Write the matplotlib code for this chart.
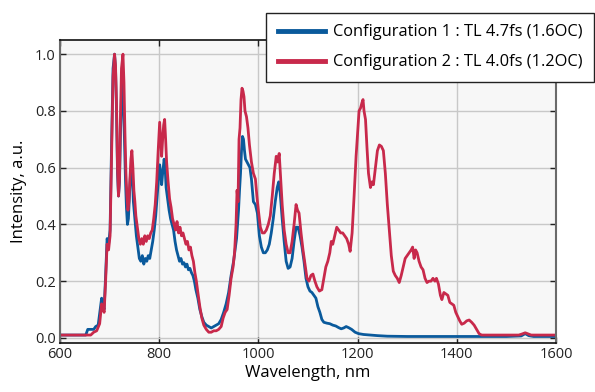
import numpy as np
import matplotlib.pyplot as plt

plt.rcParams['font.family'] = ['Open Sans', 'DejaVu Sans']

# Configuration 1 (blue)
wl_conf1 = [600, 652, 656, 662, 668, 672, 677, 681, 684, 686, 689, 692, 695, 698, 701, 704,
            707, 710, 712, 714, 716, 718, 720, 722, 724, 726, 728, 730, 732, 734, 736, 738,
            740, 742, 744, 746, 748, 750, 752, 754, 757, 760, 763, 766, 769, 772, 775, 778,
            781, 784, 787, 790, 793, 796, 799, 801, 803, 805, 807, 810, 812, 814, 817, 820,
            823, 826, 829, 832, 835, 838, 841, 844, 847, 850, 853, 856, 859, 862, 865, 868,
            871, 874, 878, 882, 886, 890, 895, 900, 905, 910, 915, 920, 925, 930, 935, 940,
            945, 950, 953, 956, 958, 960, 962, 964, 966, 968, 970, 972, 974, 977, 980, 983,
            986, 990, 994, 998, 1002, 1006, 1010, 1014, 1018, 1022, 1026, 1030, 1034, 1038, 1041, 1044,
            1048, 1052, 1056, 1060, 1064, 1068, 1072, 1076, 1080, 1084, 1088, 1092, 1096, 1100, 1104, 1108,
            1112, 1116, 1120, 1124, 1128, 1132, 1138, 1144, 1150, 1156, 1162, 1167, 1172, 1177, 1182, 1188,
            1195, 1202, 1212, 1225, 1240, 1260, 1300, 1400, 1500, 1530, 1538, 1545, 1555, 1600]
int_conf1 = [0.01, 0.01, 0.03, 0.03, 0.03, 0.04, 0.045, 0.10, 0.14, 0.12, 0.10, 0.22, 0.35, 0.33, 0.38, 0.68,
             0.95, 1.00, 0.95, 0.80, 0.58, 0.50, 0.55, 0.72, 0.86, 0.90, 0.82, 0.70, 0.56, 0.46, 0.40, 0.42,
             0.50, 0.57, 0.60, 0.57, 0.48, 0.44, 0.40, 0.36, 0.32, 0.28, 0.27, 0.29, 0.26, 0.28, 0.27, 0.29,
             0.28, 0.31, 0.34, 0.38, 0.43, 0.50, 0.57, 0.61, 0.58, 0.54, 0.58, 0.63, 0.60, 0.53, 0.49, 0.45,
             0.42, 0.40, 0.38, 0.34, 0.31, 0.29, 0.27, 0.28, 0.26, 0.265, 0.25, 0.26, 0.24, 0.245, 0.23, 0.22,
             0.20, 0.17, 0.14, 0.10, 0.075, 0.055, 0.045, 0.04, 0.035, 0.04, 0.045, 0.05, 0.065, 0.09, 0.12, 0.16,
             0.22, 0.27, 0.31, 0.35, 0.40, 0.45, 0.52, 0.58, 0.66, 0.71, 0.70, 0.66, 0.63, 0.62, 0.61, 0.60,
             0.56, 0.48, 0.47, 0.44, 0.36, 0.32, 0.30, 0.30, 0.31, 0.33, 0.37, 0.42, 0.48, 0.53, 0.55, 0.51,
             0.42, 0.34, 0.27, 0.245, 0.25, 0.28, 0.34, 0.39, 0.39, 0.36, 0.32, 0.27, 0.21, 0.18, 0.165, 0.16,
             0.15, 0.14, 0.11, 0.09, 0.065, 0.055, 0.052, 0.05, 0.045, 0.042, 0.036, 0.032, 0.035, 0.04, 0.036, 0.03,
             0.02, 0.015, 0.012, 0.01, 0.008, 0.006, 0.005, 0.005, 0.005, 0.007, 0.015, 0.008, 0.005, 0.005]

# Configuration 2 (red)
wl_conf2 = [600, 650, 662, 668, 674, 680, 684, 686, 689, 692, 695, 698, 701, 704, 707, 710,
            712, 714, 716, 718, 720, 722, 724, 727, 729, 731, 733, 735, 737, 739, 741, 743,
            745, 747, 749, 751, 753, 756, 759, 762, 765, 768, 771, 774, 777, 780, 783, 786,
            789, 792, 795, 798, 801, 803, 805, 807, 809, 811, 813, 815, 818, 821, 824, 827,
            830, 833, 836, 839, 842, 845, 848, 851, 854, 857, 860, 863, 866, 869, 872, 875,
            878, 882, 886, 890, 895, 900, 905, 910, 915, 920, 925, 929, 933, 937, 941, 945,
            949, 952, 955, 957, 959, 961, 963, 965, 967, 969, 971, 973, 976, 979, 982, 986,
            990, 994, 997, 1000, 1004, 1008, 1012, 1016, 1020, 1024, 1028, 1032, 1036, 1039, 1042, 1045,
            1048, 1052, 1056, 1060, 1064, 1068, 1072, 1076, 1079, 1082, 1086, 1090, 1094, 1098, 1102, 1106,
            1110, 1114, 1118, 1123, 1128, 1132, 1136, 1140, 1144, 1147, 1150, 1154, 1158, 1162, 1166, 1170,
            1174, 1178, 1182, 1185, 1189, 1193, 1197, 1200, 1203, 1206, 1209, 1211, 1213, 1216, 1219, 1222,
            1226, 1229, 1232, 1236, 1240, 1244, 1248, 1252, 1256, 1260, 1264, 1268, 1272, 1276, 1280, 1284,
            1288, 1292, 1296, 1300, 1304, 1308, 1311, 1314, 1317, 1320, 1324, 1328, 1332, 1336, 1340, 1344,
            1348, 1352, 1356, 1359, 1363, 1367, 1370, 1374, 1378, 1382, 1386, 1390, 1394, 1398, 1402, 1406,
            1410, 1415, 1420, 1425, 1430, 1435, 1440, 1445, 1450, 1500, 1525, 1532, 1538, 1544, 1550, 1600]
int_conf2 = [0.01, 0.01, 0.01, 0.02, 0.025, 0.05, 0.12, 0.11, 0.09, 0.20, 0.33, 0.31, 0.36, 0.65, 0.92, 1.00,
             0.96, 0.82, 0.60, 0.50, 0.56, 0.78, 0.95, 1.00, 0.90, 0.72, 0.58, 0.50, 0.45, 0.48, 0.56, 0.63,
             0.66, 0.60, 0.52, 0.48, 0.43, 0.39, 0.35, 0.33, 0.35, 0.33, 0.36, 0.34, 0.36, 0.35, 0.37, 0.38,
             0.42, 0.47, 0.55, 0.66, 0.76, 0.70, 0.64, 0.70, 0.75, 0.77, 0.70, 0.62, 0.55, 0.49, 0.46, 0.42,
             0.40, 0.38, 0.41, 0.37, 0.39, 0.36, 0.37, 0.35, 0.33, 0.34, 0.31, 0.32, 0.29, 0.27, 0.23, 0.20,
             0.16, 0.11, 0.07, 0.045, 0.03, 0.02, 0.02, 0.025, 0.025, 0.03, 0.04, 0.07, 0.09, 0.10, 0.15, 0.21,
             0.25, 0.30, 0.40, 0.52, 0.48, 0.70, 0.74, 0.84, 0.88, 0.87, 0.85, 0.80, 0.78, 0.74, 0.68, 0.62,
             0.58, 0.56, 0.50, 0.45, 0.39, 0.37, 0.37, 0.38, 0.40, 0.43, 0.50, 0.58, 0.64, 0.62, 0.65, 0.56,
             0.47, 0.38, 0.33, 0.30, 0.30, 0.34, 0.40, 0.47, 0.45, 0.44, 0.37, 0.31, 0.26, 0.21, 0.20, 0.22,
             0.225, 0.20, 0.18, 0.165, 0.17, 0.21, 0.25, 0.27, 0.30, 0.34, 0.33, 0.36, 0.39, 0.38, 0.37, 0.37,
             0.36, 0.35, 0.33, 0.305, 0.37, 0.50, 0.64, 0.72, 0.80, 0.81, 0.83, 0.84, 0.80, 0.77, 0.67, 0.58,
             0.53, 0.55, 0.54, 0.60, 0.66, 0.68, 0.675, 0.66, 0.58, 0.47, 0.38, 0.29, 0.235, 0.22, 0.21, 0.195,
             0.22, 0.25, 0.28, 0.29, 0.30, 0.31, 0.32, 0.28, 0.31, 0.30, 0.27, 0.25, 0.24, 0.21, 0.195, 0.20,
             0.20, 0.21, 0.20, 0.21, 0.19, 0.15, 0.135, 0.16, 0.155, 0.15, 0.125, 0.12, 0.115, 0.09, 0.075, 0.06,
             0.048, 0.052, 0.06, 0.063, 0.055, 0.045, 0.03, 0.015, 0.01, 0.01, 0.01, 0.014, 0.018, 0.014, 0.01, 0.01]

labels = ['Configuration 1 : TL 4.7fs (1.6OC)', 'Configuration 2 : TL 4.0fs (1.2OC)']
colors = ['#0a5a9c', '#c8294b']
x_ticks = [600, 800, 1000, 1200, 1400, 1600]
y_ticks = [0.0, 0.2, 0.4, 0.6, 0.8, 1.0]

fig = plt.figure(figsize=(5.95, 3.92), dpi=100)
ax = fig.add_axes([0.1008, 0.125, 0.8336, 0.773])
ax.set_facecolor('#f7f7f7')

ax.plot(wl_conf1, int_conf1, color=colors[0], lw=2.0, label=labels[0])
ax.plot(wl_conf2, int_conf2, color=colors[1], lw=2.0, label=labels[1])

ax.set_xlim(600, 1600)
ax.set_ylim(-0.018, 1.05)
ax.set_xticks(x_ticks)
ax.set_yticks(y_ticks)
ax.set_yticklabels([f'{v:.1f}' for v in y_ticks])
ax.grid(True, color='#c8c8c8', lw=1)
ax.set_axisbelow(True)
ax.tick_params(direction='in', length=4, width=1, top=True, right=True,
               labelsize=10.5, colors='#222222', pad=3)

for side in ['left', 'right']:
    ax.spines[side].set_color('#6a6a6a')
    ax.spines[side].set_linewidth(1.5)
for side in ['top', 'bottom']:
    ax.spines[side].set_color('#111111')
    ax.spines[side].set_linewidth(1.2)

ax.set_xlabel('Wavelength, nm', fontsize=12, labelpad=2)
ax.set_ylabel('Intensity, a.u.', fontsize=12, labelpad=6)

leg = fig.legend(loc='upper right', bbox_to_anchor=(0.998, 0.967), fontsize=11.8,
                 frameon=True, fancybox=False, edgecolor='#222222', framealpha=1,
                 handlelength=2.9, handletextpad=0.45, borderpad=0.7, labelspacing=0.85,
                 borderaxespad=0)
leg.get_frame().set_linewidth(1.0)
for line in leg.get_lines():
    line.set_linewidth(3.5)

fig.savefig('out.png', dpi=100)
